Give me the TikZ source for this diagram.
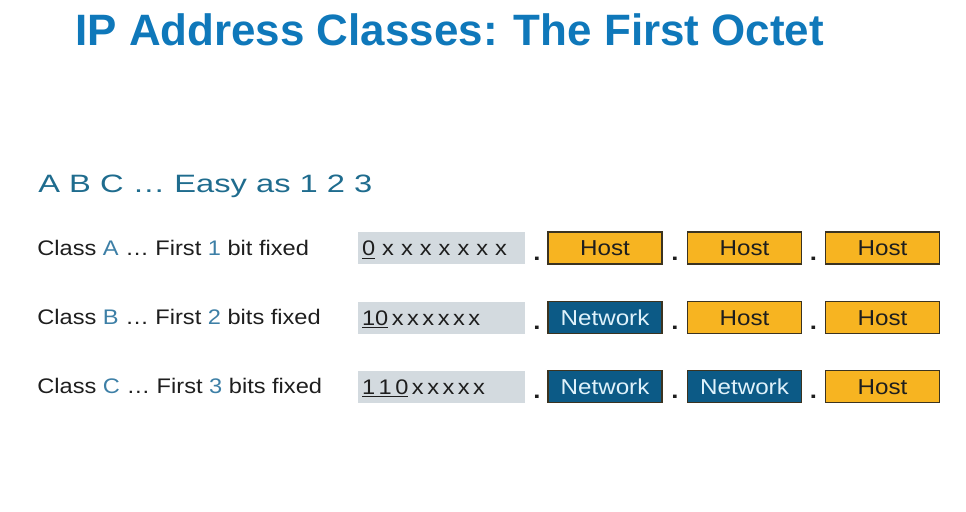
\documentclass[tikz,border=0pt]{standalone}
\usepackage{fontspec}
\setmainfont{Liberation Sans}[FakeStretch=1.12]
\newfontfamily\titlefont{Liberation Sans}
\newfontfamily\subfont{Liberation Sans}[FakeStretch=1.3]
\usetikzlibrary{positioning}

\definecolor{titleblue}{HTML}{0F78BA}
\definecolor{subblue}{HTML}{1F6C8E}
\definecolor{classblue}{HTML}{3D7FA6}
\definecolor{darktext}{HTML}{1E1E1E}
\definecolor{bitgray}{HTML}{D3DADF}
\definecolor{hostorange}{HTML}{F7B421}
\definecolor{netblue}{HTML}{0C5A86}
\definecolor{nettext}{HTML}{DFF2FB}
\definecolor{boxline}{HTML}{3B3320}

\begin{document}
\begin{tikzpicture}[x=0.02cm, y=-0.02cm,
    heading/.style={anchor=base west, inner sep=0pt, text=titleblue, font=\titlefont\bfseries\fontsize{25}{30}\selectfont},
    subheading/.style={anchor=base west, inner sep=0pt, text=subblue, font=\subfont\fontsize{14.3}{17}\selectfont},
    classtext/.style={anchor=base west, inner sep=0pt, text=darktext, font=\fontsize{12}{14}\selectfont},
    bits/.style={rectangle, fill=bitgray, minimum height=0.64cm, text width=3.18cm, inner xsep=0.08cm, inner ysep=0pt, align=left, text height=8.6pt, text depth=0pt, text=darktext, font=\fontsize{12}{14}\selectfont},
    host/.style={rectangle, draw=boxline, line width=0.8pt, fill=hostorange, minimum width=2.28cm, minimum height=0.64cm, inner sep=0pt, text height=8.6pt, text depth=0pt, text=darktext, font=\fontsize{12.3}{14}\selectfont},
    network/.style={host, fill=netblue, text=nettext},
    sep/.style={anchor=base, inner sep=0pt, text=darktext, font=\bfseries\fontsize{13}{14}\selectfont}
]
\useasboundingbox (0,0) rectangle (966,511);

% Headings
\node[heading] at (75,45) (title) {IP Address Classes: The First Octet};
\node[subheading] at (38,192) (subtitle) {A B C … Easy as 1 2 3};

% Class A row
\node[classtext] at (37,255) (classA) {Class {\color{classblue}A} … First {\color{classblue}1} bit fixed};
\node[bits] at (441.5,248) (bitsA) {\underline{0} x x x x x x x};
\node[sep] at (537,260) (dotA1) {.};
\node[host] at (605,248) (octA2) {Host};
\node[sep] at (675,260) (dotA2) {.};
\node[host] at (744.5,248) (octA3) {Host};
\node[sep] at (813.5,260) (dotA3) {.};
\node[host] at (882.5,248) (octA4) {Host};

% Class B row
\node[classtext] at (37,324.5) (classB) {Class {\color{classblue}B} … First {\color{classblue}2} bits fixed};
\node[bits] at (441.5,317.5) (bitsB) {\underline{10}\,x\,x\,x\,x\,x\,x};
\node[sep] at (537,329.5) (dotB1) {.};
\node[network] at (605,317.5) (octB2) {Network};
\node[sep] at (675,329.5) (dotB2) {.};
\node[host] at (744.5,317.5) (octB3) {Host};
\node[sep] at (813.5,329.5) (dotB3) {.};
\node[host] at (882.5,317.5) (octB4) {Host};

% Class C row
\node[classtext] at (37,393.5) (classC) {Class {\color{classblue}C} … First {\color{classblue}3} bits fixed};
\node[bits] at (441.5,386.5) (bitsC) {\underline{1\,1\,0}\,x\,x\,x\,x\,x};
\node[sep] at (537,398.5) (dotC1) {.};
\node[network] at (605,386.5) (octC2) {Network};
\node[sep] at (675,398.5) (dotC2) {.};
\node[network] at (744.5,386.5) (octC3) {Network};
\node[sep] at (813.5,398.5) (dotC3) {.};
\node[host] at (882.5,386.5) (octC4) {Host};

\end{tikzpicture}
\end{document}
